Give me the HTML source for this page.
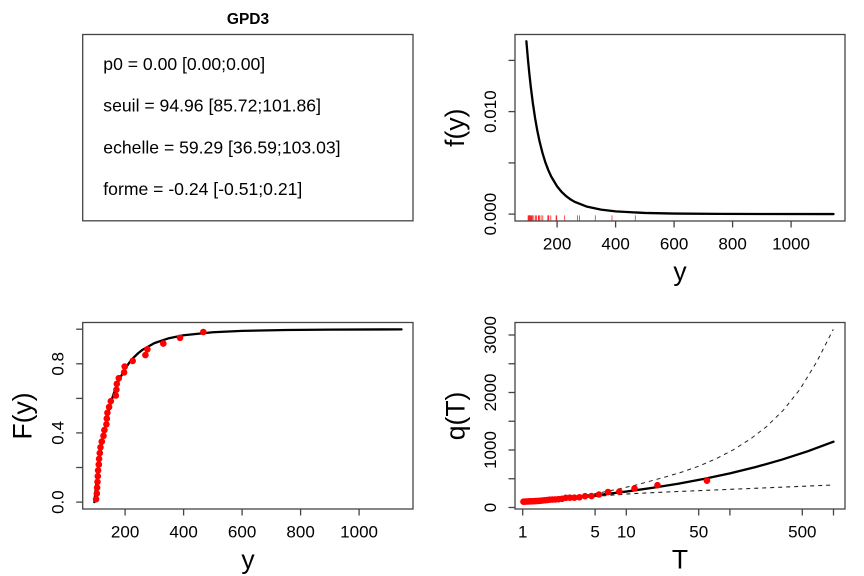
<!DOCTYPE html>
<html>
<head>
<meta charset="utf-8">
<style>
html,body{margin:0;padding:0;background:#fff;}
svg{display:block;}
text{font-family:"Liberation Sans",Arial,sans-serif;fill:#000;}
.tk{font-size:17px;}
.lab{font-size:26.5px;}
.par{font-size:17.6px;}
</style>
</head>
<body>
<svg width="864" height="576" viewBox="0 0 864 576" xmlns="http://www.w3.org/2000/svg">
<rect x="0" y="0" width="864" height="576" fill="#fff"/>

<!-- ============ TOP-LEFT: parameter box ============ -->
<text x="248" y="24" text-anchor="middle" style="font-size:15.5px;font-weight:bold;">GPD3</text>
<rect x="82.7" y="34.5" width="330.3" height="186.3" fill="none" stroke="#444" stroke-width="1.3"/>
<text class="par" x="103.3" y="70">p0 = 0.00 [0.00;0.00]</text>
<text class="par" x="103.3" y="111.7">seuil = 94.96 [85.72;101.86]</text>
<text class="par" x="103.3" y="153.3">echelle = 59.29 [36.59;103.03]</text>
<text class="par" x="103.3" y="195">forme = -0.24 [-0.51;0.21]</text>

<!-- ============ TOP-RIGHT: density ============ -->
<g>
<!-- rug -->
<g stroke="#ff0000" stroke-width="0.8" opacity="0.85">
<line x1="528.1" y1="215.4" x2="528.1" y2="221"/>
<line x1="528.8" y1="215.4" x2="528.8" y2="221"/>
<line x1="529.1" y1="215.4" x2="529.1" y2="221"/>
<line x1="529.5" y1="215.4" x2="529.5" y2="221"/>
<line x1="529.8" y1="215.4" x2="529.8" y2="221"/>
<line x1="530.1" y1="215.4" x2="530.1" y2="221"/>
<line x1="530.8" y1="215.4" x2="530.8" y2="221"/>
<line x1="531.1" y1="215.4" x2="531.1" y2="221"/>
<line x1="531.8" y1="215.4" x2="531.8" y2="221"/>
<line x1="532.5" y1="215.4" x2="532.5" y2="221"/>
<line x1="533.8" y1="215.4" x2="533.8" y2="221"/>
<line x1="535.5" y1="215.4" x2="535.5" y2="221"/>
<line x1="536.4" y1="215.4" x2="536.4" y2="221"/>
<line x1="538.4" y1="215.4" x2="538.4" y2="221"/>
<line x1="538.8" y1="215.4" x2="538.8" y2="221"/>
<line x1="539.4" y1="215.4" x2="539.4" y2="221"/>
<line x1="541.1" y1="215.4" x2="541.1" y2="221"/>
<line x1="542.8" y1="215.4" x2="542.8" y2="221"/>
<line x1="547.8" y1="215.4" x2="547.8" y2="221"/>
<line x1="548.4" y1="215.4" x2="548.4" y2="221"/>
<line x1="548.8" y1="215.4" x2="548.8" y2="221"/>
<line x1="550.8" y1="215.4" x2="550.8" y2="221"/>
<line x1="556.1" y1="215.4" x2="556.1" y2="221"/>
<line x1="556.7" y1="215.4" x2="556.7" y2="221"/>
<line x1="564.7" y1="215.4" x2="564.7" y2="221"/>
<line x1="577.4" y1="215.4" x2="577.4" y2="221"/>
<line x1="579.4" y1="215.4" x2="579.4" y2="221"/>
<line x1="595.3" y1="215.4" x2="595.3" y2="221"/>
<line x1="612.0" y1="215.4" x2="612.0" y2="221"/>
<line x1="635.3" y1="215.4" x2="635.3" y2="221"/>
</g>
<path d="M526.38,41.24 L527.85,58.37 L529.31,73.40 L530.78,86.73 L532.82,102.94 L535.16,118.56 L537.21,130.11 L539.55,141.33 L542.48,152.97 L545.40,162.42 L548.33,170.19 L551.25,176.62 L557.10,186.39 L561.49,191.76 L565.88,195.94 L570.26,199.21 L574.65,201.81 L586.35,206.49 L600.98,209.67 L615.60,211.38 L644.85,212.95 L674.10,213.55 L717.98,213.89 L761.85,214.0 L833.51,214.08" fill="none" stroke="#000" stroke-width="2.3" stroke-linejoin="round" stroke-linecap="round"/>
<rect x="515" y="34.5" width="330" height="186.5" fill="none" stroke="#444" stroke-width="1.3"/>
<g stroke="#444" stroke-width="1.3">
<line x1="557.1" y1="221" x2="557.1" y2="227.5"/>
<line x1="615.6" y1="221" x2="615.6" y2="227.5"/>
<line x1="674.1" y1="221" x2="674.1" y2="227.5"/>
<line x1="732.6" y1="221" x2="732.6" y2="227.5"/>
<line x1="791.1" y1="221" x2="791.1" y2="227.5"/>
<line x1="515" y1="214.1" x2="508.5" y2="214.1"/>
<line x1="515" y1="162.9" x2="508.5" y2="162.9"/>
<line x1="515" y1="111.6" x2="508.5" y2="111.6"/>
<line x1="515" y1="60.4" x2="508.5" y2="60.4"/>
</g>
<text class="tk" x="557.1" y="249.5" text-anchor="middle">200</text>
<text class="tk" x="615.6" y="249.5" text-anchor="middle">400</text>
<text class="tk" x="674.1" y="249.5" text-anchor="middle">600</text>
<text class="tk" x="732.6" y="249.5" text-anchor="middle">800</text>
<text class="tk" x="791.1" y="249.5" text-anchor="middle">1000</text>
<text class="tk" x="496.2" y="214.1" text-anchor="middle" transform="rotate(-90 496.2 214.1)">0.000</text>
<text class="tk" x="496.2" y="111.6" text-anchor="middle" transform="rotate(-90 496.2 111.6)">0.010</text>
<text class="lab" x="680" y="280.7" text-anchor="middle">y</text>
<text class="lab" x="464" y="127.7" text-anchor="middle" transform="rotate(-90 464 127.7)">f(y)</text>
</g>

<!-- ============ BOTTOM-LEFT: CDF ============ -->
<g>
<path d="M94.38,502.1 L95.85,488.14 L97.31,475.65 L98.78,464.36 L100.82,450.30 L103.16,436.38 L105.21,425.80 L107.55,415.25 L110.48,403.97 L113.40,394.50 L116.33,386.45 L119.25,379.60 L125.10,368.71 L129.49,362.40 L133.88,357.30 L138.26,353.13 L142.65,349.71 L154.35,343.14 L168.98,338.21 L183.60,335.27 L212.85,332.23 L242.10,330.87 L285.98,329.98 L329.85,329.61 L401.51,329.37" fill="none" stroke="#000" stroke-width="2.3" stroke-linejoin="round" stroke-linecap="round"/>
<g fill="#ff0000">
<circle cx="96.1" cy="499.2" r="3.3"/>
<circle cx="96.8" cy="493.5" r="3.3"/>
<circle cx="97.1" cy="487.7" r="3.3"/>
<circle cx="97.5" cy="481.9" r="3.3"/>
<circle cx="97.8" cy="476.2" r="3.3"/>
<circle cx="98.1" cy="470.4" r="3.3"/>
<circle cx="98.8" cy="464.6" r="3.3"/>
<circle cx="99.1" cy="458.9" r="3.3"/>
<circle cx="99.8" cy="453.1" r="3.3"/>
<circle cx="100.5" cy="447.3" r="3.3"/>
<circle cx="101.8" cy="441.6" r="3.3"/>
<circle cx="103.5" cy="435.8" r="3.3"/>
<circle cx="104.4" cy="430.1" r="3.3"/>
<circle cx="106.4" cy="424.3" r="3.3"/>
<circle cx="106.8" cy="418.5" r="3.3"/>
<circle cx="107.4" cy="412.8" r="3.3"/>
<circle cx="109.1" cy="407.0" r="3.3"/>
<circle cx="110.8" cy="401.2" r="3.3"/>
<circle cx="115.8" cy="395.5" r="3.3"/>
<circle cx="116.4" cy="389.7" r="3.3"/>
<circle cx="116.8" cy="383.9" r="3.3"/>
<circle cx="118.8" cy="378.2" r="3.3"/>
<circle cx="124.1" cy="372.4" r="3.3"/>
<circle cx="124.7" cy="366.6" r="3.3"/>
<circle cx="132.7" cy="360.9" r="3.3"/>
<circle cx="145.4" cy="355.1" r="3.3"/>
<circle cx="147.4" cy="349.3" r="3.3"/>
<circle cx="163.3" cy="343.6" r="3.3"/>
<circle cx="180.0" cy="337.8" r="3.3"/>
<circle cx="203.3" cy="332.0" r="3.3"/>
</g>
<rect x="82.7" y="322.5" width="330.3" height="186.5" fill="none" stroke="#444" stroke-width="1.3"/>
<g stroke="#444" stroke-width="1.3">
<line x1="125.1" y1="509" x2="125.1" y2="515.5"/>
<line x1="183.6" y1="509" x2="183.6" y2="515.5"/>
<line x1="242.1" y1="509" x2="242.1" y2="515.5"/>
<line x1="300.6" y1="509" x2="300.6" y2="515.5"/>
<line x1="359.1" y1="509" x2="359.1" y2="515.5"/>
<line x1="82.7" y1="502.1" x2="76.2" y2="502.1"/>
<line x1="82.7" y1="467.5" x2="76.2" y2="467.5"/>
<line x1="82.7" y1="432.9" x2="76.2" y2="432.9"/>
<line x1="82.7" y1="398.4" x2="76.2" y2="398.4"/>
<line x1="82.7" y1="363.8" x2="76.2" y2="363.8"/>
<line x1="82.7" y1="329.2" x2="76.2" y2="329.2"/>
</g>
<text class="tk" x="125.1" y="537.5" text-anchor="middle">200</text>
<text class="tk" x="183.6" y="537.5" text-anchor="middle">400</text>
<text class="tk" x="242.1" y="537.5" text-anchor="middle">600</text>
<text class="tk" x="300.6" y="537.5" text-anchor="middle">800</text>
<text class="tk" x="359.1" y="537.5" text-anchor="middle">1000</text>
<text class="tk" x="63.3" y="502.1" text-anchor="middle" transform="rotate(-90 63.3 502.1)">0.0</text>
<text class="tk" x="63.3" y="432.9" text-anchor="middle" transform="rotate(-90 63.3 432.9)">0.4</text>
<text class="tk" x="63.3" y="363.8" text-anchor="middle" transform="rotate(-90 63.3 363.8)">0.8</text>
<text class="lab" x="248" y="568.7" text-anchor="middle">y</text>
<text class="lab" x="31.7" y="415.9" text-anchor="middle" transform="rotate(-90 31.7 415.9)">F(y)</text>
</g>

<!-- ============ BOTTOM-RIGHT: return levels ============ -->
<g>
<path d="M522.7,502.04 L548.6,499.93 L574.5,497.52 L600.4,494.74 L626.3,491.56 L652.2,487.90 L678.1,483.70 L704.0,478.88 L729.9,473.35 L755.8,467.01 L781.7,459.69 L807.6,451.31 L833.5,441.70" fill="none" stroke="#000" stroke-width="2.3" stroke-linejoin="round" stroke-linecap="round"/>
<path d="M522.7,501.7 L548.6,499.6 L574.5,496.8 L600,492.8 L616.7,489.3 L633.3,485.7 L650,481.2 L666.7,476.6 L683.3,471.6 L700,465.7 L716.7,458.4 L733.3,449.8 L750,439.3 L766.7,426.5 L783.3,410.2 L800,389.2 L816.7,361.9 L833.3,329.3" fill="none" stroke="#222" stroke-width="1" stroke-dasharray="4 4"/>
<path d="M522.7,502.3 L548.6,500.4 L574.5,498.4 L600,496.0 L633.3,493.6 L666.7,492.0 L700,490.6 L733.3,489.2 L766.7,487.8 L800,486.4 L833.3,485.0" fill="none" stroke="#222" stroke-width="1.1" stroke-dasharray="4 4"/>
<g fill="#ff0000">
<circle cx="523.46" cy="501.69" r="3.3"/>
<circle cx="525.01" cy="501.56" r="3.3"/>
<circle cx="526.62" cy="501.50" r="3.3"/>
<circle cx="528.28" cy="501.43" r="3.3"/>
<circle cx="530.01" cy="501.36" r="3.3"/>
<circle cx="531.81" cy="501.30" r="3.3"/>
<circle cx="533.69" cy="501.17" r="3.3"/>
<circle cx="535.64" cy="501.11" r="3.3"/>
<circle cx="537.69" cy="500.97" r="3.3"/>
<circle cx="539.83" cy="500.84" r="3.3"/>
<circle cx="542.08" cy="500.58" r="3.3"/>
<circle cx="544.45" cy="500.25" r="3.3"/>
<circle cx="546.95" cy="500.06" r="3.3"/>
<circle cx="549.60" cy="499.67" r="3.3"/>
<circle cx="552.41" cy="499.60" r="3.3"/>
<circle cx="555.41" cy="499.47" r="3.3"/>
<circle cx="558.63" cy="499.15" r="3.3"/>
<circle cx="562.09" cy="498.82" r="3.3"/>
<circle cx="565.84" cy="497.83" r="3.3"/>
<circle cx="569.93" cy="497.70" r="3.3"/>
<circle cx="574.44" cy="497.64" r="3.3"/>
<circle cx="579.44" cy="497.25" r="3.3"/>
<circle cx="585.07" cy="496.20" r="3.3"/>
<circle cx="591.51" cy="496.07" r="3.3"/>
<circle cx="599.03" cy="494.50" r="3.3"/>
<circle cx="608.06" cy="492.02" r="3.3"/>
<circle cx="619.36" cy="491.62" r="3.3"/>
<circle cx="634.50" cy="488.48" r="3.3"/>
<circle cx="657.49" cy="485.21" r="3.3"/>
<circle cx="706.92" cy="480.64" r="3.3"/>
</g>
<rect x="515" y="322.5" width="330" height="186.5" fill="none" stroke="#444" stroke-width="1.3"/>
<g stroke="#444" stroke-width="1.3">
<line x1="522.7" y1="509" x2="522.7" y2="515.5"/>
<line x1="595.1" y1="509" x2="595.1" y2="515.5"/>
<line x1="626.3" y1="509" x2="626.3" y2="515.5"/>
<line x1="698.7" y1="509" x2="698.7" y2="515.5"/>
<line x1="729.9" y1="509" x2="729.9" y2="515.5"/>
<line x1="802.3" y1="509" x2="802.3" y2="515.5"/>
<line x1="833.5" y1="509" x2="833.5" y2="515.5"/>
<line x1="515" y1="507.5" x2="508.5" y2="507.5"/>
<line x1="515" y1="478.75" x2="508.5" y2="478.75"/>
<line x1="515" y1="450" x2="508.5" y2="450"/>
<line x1="515" y1="421.25" x2="508.5" y2="421.25"/>
<line x1="515" y1="392.5" x2="508.5" y2="392.5"/>
<line x1="515" y1="363.75" x2="508.5" y2="363.75"/>
<line x1="515" y1="335" x2="508.5" y2="335"/>
</g>
<text class="tk" x="522.7" y="537.5" text-anchor="middle">1</text>
<text class="tk" x="595.1" y="537.5" text-anchor="middle">5</text>
<text class="tk" x="626.3" y="537.5" text-anchor="middle">10</text>
<text class="tk" x="698.7" y="537.5" text-anchor="middle">50</text>
<text class="tk" x="802.3" y="537.5" text-anchor="middle">500</text>
<text class="tk" x="496.2" y="507.5" text-anchor="middle" transform="rotate(-90 496.2 507.5)">0</text>
<text class="tk" x="496.2" y="450" text-anchor="middle" transform="rotate(-90 496.2 450)">1000</text>
<text class="tk" x="496.2" y="392.5" text-anchor="middle" transform="rotate(-90 496.2 392.5)">2000</text>
<text class="tk" x="496.2" y="335" text-anchor="middle" transform="rotate(-90 496.2 335)">3000</text>
<text class="lab" x="680" y="568.7" text-anchor="middle">T</text>
<text class="lab" x="464.5" y="415.9" text-anchor="middle" transform="rotate(-90 464.5 415.9)">q(T)</text>
</g>
</svg>
</body>
</html>
